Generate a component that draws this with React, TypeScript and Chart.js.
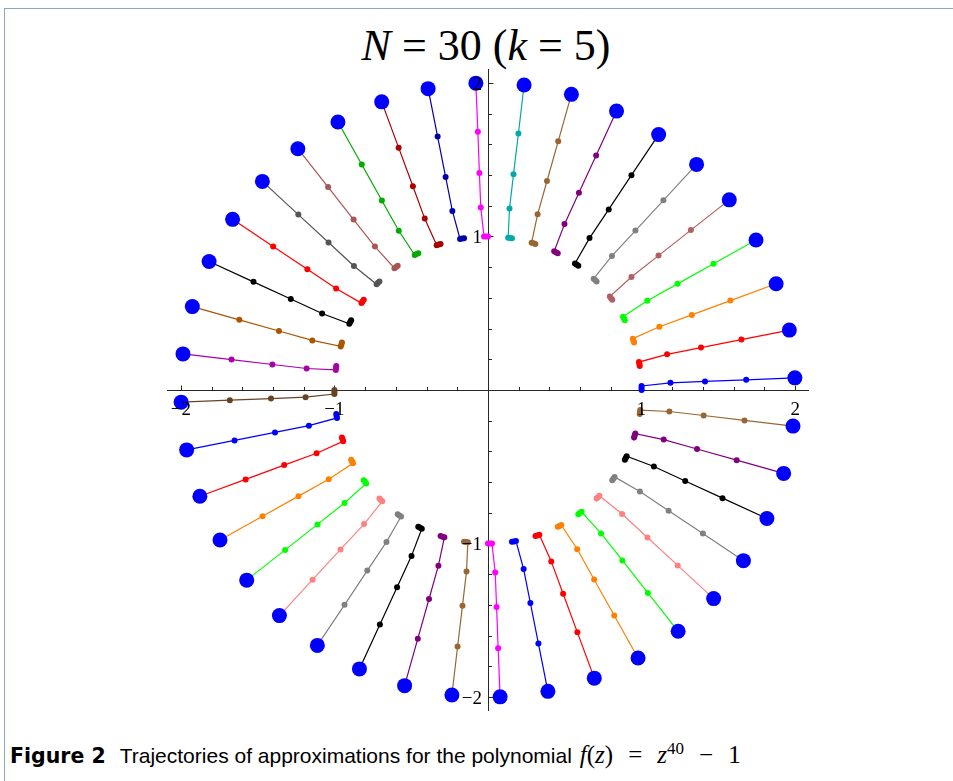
import React, { useEffect, useRef } from "react";
import { Chart, registerables } from "chart.js";

Chart.register(...registerables);

// Each trajectory: start approximation (radius 2), then the approximations shown every k = 5 iterations
const trajectories: [number, number][][] = [
  [[1.998, 0.079], [1.681, 0.066], [1.413, 0.056], [1.188, 0.047], [1.0, 0.026], [1.0, 0.013], [1.0, 0.0]],
  [[1.962, 0.39], [1.65, 0.328], [1.387, 0.276], [1.166, 0.232], [0.983, 0.182], [0.986, 0.169], [0.988, 0.156]],
  [[1.876, 0.692], [1.578, 0.582], [1.327, 0.489], [1.116, 0.412], [0.943, 0.334], [0.947, 0.321], [0.951, 0.309]],
  [[1.745, 0.977], [1.468, 0.822], [1.234, 0.691], [1.037, 0.581], [0.879, 0.477], [0.885, 0.466], [0.891, 0.454]],
  [[1.571, 1.238], [1.321, 1.041], [1.11, 0.875], [0.934, 0.736], [0.793, 0.609], [0.801, 0.598], [0.809, 0.588]],
  [[1.358, 1.469], [1.142, 1.235], [0.96, 1.038], [0.807, 0.873], [0.688, 0.725], [0.698, 0.716], [0.707, 0.707]],
  [[1.111, 1.663], [0.934, 1.399], [0.786, 1.176], [0.661, 0.989], [0.566, 0.824], [0.577, 0.817], [0.588, 0.809]],
  [[0.837, 1.816], [0.704, 1.527], [0.592, 1.284], [0.498, 1.08], [0.431, 0.903], [0.442, 0.897], [0.454, 0.891]],
  [[0.543, 1.925], [0.457, 1.619], [0.384, 1.361], [0.323, 1.144], [0.284, 0.959], [0.297, 0.955], [0.309, 0.951]],
  [[0.235, 1.986], [0.198, 1.67], [0.166, 1.404], [0.14, 1.181], [0.131, 0.991], [0.143, 0.99], [0.156, 0.988]],
  [[-0.079, 1.998], [-0.066, 1.681], [-0.056, 1.413], [-0.047, 1.188], [-0.026, 1.0], [-0.013, 1.0], [0.0, 1.0]],
  [[-0.39, 1.962], [-0.328, 1.65], [-0.276, 1.387], [-0.232, 1.166], [-0.182, 0.983], [-0.169, 0.986], [-0.156, 0.988]],
  [[-0.692, 1.876], [-0.582, 1.578], [-0.489, 1.327], [-0.412, 1.116], [-0.334, 0.943], [-0.321, 0.947], [-0.309, 0.951]],
  [[-0.977, 1.745], [-0.822, 1.468], [-0.691, 1.234], [-0.581, 1.037], [-0.477, 0.879], [-0.466, 0.885], [-0.454, 0.891]],
  [[-1.238, 1.571], [-1.041, 1.321], [-0.875, 1.11], [-0.736, 0.934], [-0.609, 0.793], [-0.598, 0.801], [-0.588, 0.809]],
  [[-1.469, 1.358], [-1.235, 1.142], [-1.038, 0.96], [-0.873, 0.807], [-0.725, 0.688], [-0.716, 0.698], [-0.707, 0.707]],
  [[-1.663, 1.111], [-1.399, 0.934], [-1.176, 0.786], [-0.989, 0.661], [-0.824, 0.566], [-0.817, 0.577], [-0.809, 0.588]],
  [[-1.816, 0.837], [-1.527, 0.704], [-1.284, 0.592], [-1.08, 0.498], [-0.903, 0.431], [-0.897, 0.442], [-0.891, 0.454]],
  [[-1.925, 0.543], [-1.619, 0.457], [-1.361, 0.384], [-1.144, 0.323], [-0.959, 0.284], [-0.955, 0.297], [-0.951, 0.309]],
  [[-1.986, 0.235], [-1.67, 0.198], [-1.404, 0.166], [-1.181, 0.14], [-0.991, 0.131], [-0.99, 0.143], [-0.988, 0.156]],
  [[-1.998, -0.079], [-1.681, -0.066], [-1.413, -0.056], [-1.188, -0.047], [-1.0, -0.026], [-1.0, -0.013], [-1.0, 0.0]],
  [[-1.962, -0.39], [-1.65, -0.328], [-1.387, -0.276], [-1.166, -0.232], [-0.983, -0.182], [-0.986, -0.169], [-0.988, -0.156]],
  [[-1.876, -0.692], [-1.578, -0.582], [-1.327, -0.489], [-1.116, -0.412], [-0.943, -0.334], [-0.947, -0.321], [-0.951, -0.309]],
  [[-1.745, -0.977], [-1.468, -0.822], [-1.234, -0.691], [-1.037, -0.581], [-0.879, -0.477], [-0.885, -0.466], [-0.891, -0.454]],
  [[-1.571, -1.238], [-1.321, -1.041], [-1.11, -0.875], [-0.934, -0.736], [-0.793, -0.609], [-0.801, -0.598], [-0.809, -0.588]],
  [[-1.358, -1.469], [-1.142, -1.235], [-0.96, -1.038], [-0.807, -0.873], [-0.688, -0.725], [-0.698, -0.716], [-0.707, -0.707]],
  [[-1.111, -1.663], [-0.934, -1.399], [-0.786, -1.176], [-0.661, -0.989], [-0.566, -0.824], [-0.577, -0.817], [-0.588, -0.809]],
  [[-0.837, -1.816], [-0.704, -1.527], [-0.592, -1.284], [-0.498, -1.08], [-0.431, -0.903], [-0.442, -0.897], [-0.454, -0.891]],
  [[-0.543, -1.925], [-0.457, -1.619], [-0.384, -1.361], [-0.323, -1.144], [-0.284, -0.959], [-0.297, -0.955], [-0.309, -0.951]],
  [[-0.235, -1.986], [-0.198, -1.67], [-0.166, -1.404], [-0.14, -1.181], [-0.131, -0.991], [-0.143, -0.99], [-0.156, -0.988]],
  [[0.079, -1.998], [0.066, -1.681], [0.056, -1.413], [0.047, -1.188], [0.026, -1.0], [0.013, -1.0], [0.0, -1.0]],
  [[0.39, -1.962], [0.328, -1.65], [0.276, -1.387], [0.232, -1.166], [0.182, -0.983], [0.169, -0.986], [0.156, -0.988]],
  [[0.692, -1.876], [0.582, -1.578], [0.489, -1.327], [0.412, -1.116], [0.334, -0.943], [0.321, -0.947], [0.309, -0.951]],
  [[0.977, -1.745], [0.822, -1.468], [0.691, -1.234], [0.581, -1.037], [0.477, -0.879], [0.466, -0.885], [0.454, -0.891]],
  [[1.238, -1.571], [1.041, -1.321], [0.875, -1.11], [0.736, -0.934], [0.609, -0.793], [0.598, -0.801], [0.588, -0.809]],
  [[1.469, -1.358], [1.235, -1.142], [1.038, -0.96], [0.873, -0.807], [0.725, -0.688], [0.716, -0.698], [0.707, -0.707]],
  [[1.663, -1.111], [1.399, -0.934], [1.176, -0.786], [0.989, -0.661], [0.824, -0.566], [0.817, -0.577], [0.809, -0.588]],
  [[1.816, -0.837], [1.527, -0.704], [1.284, -0.592], [1.08, -0.498], [0.903, -0.431], [0.897, -0.442], [0.891, -0.454]],
  [[1.925, -0.543], [1.619, -0.457], [1.361, -0.384], [1.144, -0.323], [0.959, -0.284], [0.955, -0.297], [0.951, -0.309]],
  [[1.986, -0.235], [1.67, -0.198], [1.404, -0.166], [1.181, -0.14], [0.991, -0.131], [0.99, -0.143], [0.988, -0.156]],
];

const trajectoryColors: string[] = [
  "#0000ff", "#ff0000", "#ff8000", "#00ff00", "#b06060", "#808080", "#000000", "#800080", "#996633", "#00aaaa",
  "#ff00ff", "#0000aa", "#aa0000", "#00aa00", "#aa5555", "#555555", "#ff0000", "#000000", "#aa5500", "#aa00aa",
  "#664422", "#0000ff", "#ff0000", "#ff8000", "#00ff00", "#ff8080", "#808080", "#000000", "#800080", "#996633",
  "#ff00ff", "#0000ff", "#ff0000", "#ff8000", "#00ff00", "#ff8080", "#808080", "#000000", "#800080", "#996633",
];

const startPointColor = "#0000ff";
const axisMin = -2.09;
const axisMax = 2.09;
const tickValues: number[] = [
  -2, -1.8, -1.6, -1.4, -1.2, -1, -0.8, -0.6, -0.4, -0.2, 0.2, 0.4, 0.6, 0.8, 1, 1.2, 1.4, 1.6, 1.8, 2,
];
const labeledTicks: number[] = [-2, -1, 1, 2];
const xTickLabels: string[] = ["\u22122", "\u22121", "1", "2"];
const yTickLabels: string[] = ["\u22122", "\u22121", "1", "2"];

const tickFont = "19px 'Liberation Serif', 'Times New Roman', serif";
const serif = "'Liberation Serif', 'Times New Roman', serif";

const centerAxesPlugin = {
  id: "centerAxes",
  beforeDatasetsDraw(chart: any) {
    const { ctx, chartArea, scales } = chart;
    const xs = scales.x;
    const ys = scales.y;
    const ox = Math.round(xs.getPixelForValue(0)) + 0.5;
    const oy = Math.round(ys.getPixelForValue(0)) + 0.5;
    ctx.save();
    ctx.strokeStyle = "#262626";
    ctx.lineWidth = 1;
    ctx.beginPath();
    ctx.moveTo(chartArea.left, oy);
    ctx.lineTo(chartArea.right, oy);
    ctx.moveTo(ox, chartArea.top);
    ctx.lineTo(ox, chartArea.bottom);
    tickValues.forEach((v) => {
      const len = labeledTicks.includes(v) ? 5 : 3.5;
      const px = Math.round(xs.getPixelForValue(v)) + 0.5;
      ctx.moveTo(px, oy);
      ctx.lineTo(px, oy - len);
      const py = Math.round(ys.getPixelForValue(v)) + 0.5;
      ctx.moveTo(ox, py);
      ctx.lineTo(ox + len, py);
    });
    ctx.stroke();
    ctx.restore();
  },
  afterDatasetsDraw(chart: any) {
    const { ctx, scales } = chart;
    const xs = scales.x;
    const ys = scales.y;
    const ox = xs.getPixelForValue(0);
    const oy = ys.getPixelForValue(0);
    ctx.save();
    ctx.fillStyle = "#000000";
    ctx.font = tickFont;
    ctx.textBaseline = "alphabetic";
    ctx.textAlign = "center";
    labeledTicks.forEach((v, i) => {
      ctx.fillText(xTickLabels[i], xs.getPixelForValue(v), oy + 24.5);
    });
    ctx.textAlign = "right";
    labeledTicks.forEach((v, i) => {
      ctx.fillText(yTickLabels[i], ox - 6, ys.getPixelForValue(v) + 6.8);
    });
    ctx.restore();
  },
};

export default function App() {
  const canvasRef = useRef<HTMLCanvasElement | null>(null);

  useEffect(() => {
    const canvas = canvasRef.current;
    if (!canvas) return;
    const trajectoryDatasets = trajectories.map((pts, i) => ({
      data: pts.map(([x, y]) => ({ x, y })),
      showLine: true,
      borderColor: trajectoryColors[i],
      backgroundColor: trajectoryColors[i],
      borderWidth: 1.2,
      pointRadius: 3,
      pointHoverRadius: 3,
      pointBorderWidth: 0,
      tension: 0,
      clip: false,
      order: 1,
    }));
    const startDataset = {
      data: trajectories.map((pts) => ({ x: pts[0][0], y: pts[0][1] })),
      showLine: false,
      borderColor: startPointColor,
      backgroundColor: startPointColor,
      borderWidth: 0,
      pointRadius: 7.5,
      pointHoverRadius: 7.5,
      pointBorderWidth: 0,
      clip: false,
      order: 0,
    };
    const chart = new Chart(canvas, {
      type: "scatter",
      data: { datasets: [startDataset, ...trajectoryDatasets] as any },
      options: {
        animation: false,
        responsive: false,
        maintainAspectRatio: false,
        events: [],
        layout: { padding: 10 },
        plugins: {
          legend: { display: false },
          tooltip: { enabled: false },
          title: { display: false },
        },
        scales: {
          x: { type: "linear", min: axisMin, max: axisMax, display: false },
          y: { type: "linear", min: axisMin, max: axisMax, display: false },
        },
      },
      plugins: [centerAxesPlugin as any],
    });
    return () => chart.destroy();
  }, []);

  return (
    <div
      style={{
        position: "fixed",
        left: 0,
        top: 0,
        width: 953,
        height: 781,
        background: "#ffffff",
        overflow: "hidden",
      }}
    >
      <div
        style={{
          position: "absolute",
          left: 4,
          top: 8,
          width: 980,
          height: 800,
          borderTop: "1px solid #8fa7c6",
          borderLeft: "1px solid #8fa7c6",
        }}
      />
      <div
        style={{
          position: "absolute",
          left: 286,
          top: 24,
          width: 400,
          textAlign: "center",
          fontFamily: serif,
          fontSize: 44,
          lineHeight: "44px",
          color: "#000",
          whiteSpace: "nowrap",
        }}
      >
        <i>N</i> = 30 (<i>k</i> = 5)
      </div>
      <canvas
        ref={canvasRef}
        width={662}
        height={662}
        style={{ position: "absolute", left: 157, top: 59, width: 662, height: 662 }}
      />
      <div
        style={{
          position: "absolute",
          left: 10,
          top: 741,
          fontFamily: "'Liberation Sans', Arial, sans-serif",
          fontSize: 21,
          lineHeight: "28px",
          color: "#000",
          whiteSpace: "nowrap",
        }}
      >
        <span style={{ fontFamily: "'DejaVu Sans', sans-serif", fontWeight: "bold", fontSize: 20.5 }}>
          Figure 2
        </span>
        <span style={{ marginLeft: 14 }}>Trajectories of approximations for the polynomial</span>
        <span style={{ fontFamily: serif, fontSize: 25, marginLeft: 8 }}>
          <i>f</i>(<i>z</i>)
          <span style={{ margin: "0 15px" }}>=</span>
          <i>z</i>
          <sup style={{ fontSize: 17, lineHeight: 0 }}>40</sup>
          <span style={{ margin: "0 15px" }}>{"\u2212"}</span>1
        </span>
      </div>
    </div>
  );
}
